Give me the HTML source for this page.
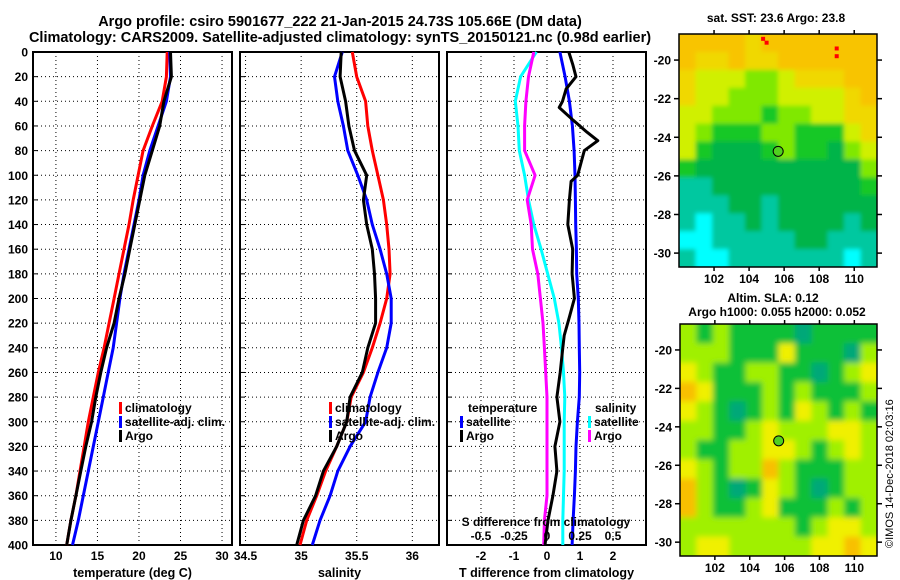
<!DOCTYPE html>
<html><head><meta charset="utf-8">
<style>
html,body{margin:0;padding:0;background:#fff;}
svg{display:block;font-family:"Liberation Sans",sans-serif;font-weight:bold;}
</style></head>
<body>
<svg id="chart" width="900" height="580" viewBox="0 0 900 580" xmlns="http://www.w3.org/2000/svg">
<defs>
<filter id="blur" x="0" y="0" width="1" height="1"><feGaussianBlur stdDeviation="3"/></filter>
<filter id="blur1" x="0" y="0" width="1" height="1"><feGaussianBlur stdDeviation="2"/></filter>
<clipPath id="clipMap2"><rect x="680" y="324" width="197" height="232"/></clipPath>
<clipPath id="clipMap1"><rect x="679" y="34" width="198" height="233"/></clipPath>
</defs>
<text x="340" y="26" font-size="14.5" text-anchor="middle">Argo profile: csiro 5901677_222 21-Jan-2015 24.73S 105.66E (DM data)</text>
<text x="340" y="42" font-size="14.5" text-anchor="middle">Climatology: CARS2009. Satellite-adjusted climatology: synTS_20150121.nc (0.98d earlier)</text>
<text x="776" y="22" font-size="12" text-anchor="middle">sat. SST: 23.6 Argo: 23.8</text>
<text x="773" y="302" font-size="12" text-anchor="middle">Altim. SLA: 0.12</text>
<text x="777" y="316" font-size="12" text-anchor="middle">Argo h1000: 0.055 h2000: 0.052</text>
<text x="0" y="0" font-size="11" font-weight="normal" transform="translate(893,548) rotate(-90)">©IMOS 14-Dec-2018 02:03:16</text>
<g id="g"></g>
</svg>
<script>
// ---- profile data ----
var depths = [0,20,40,60,80,100,120,140,160,180,200,220,240,260,280,300,320,340,360,380,400];
var tempClim = [23.4,23.3,22.8,21.6,20.5,19.9,19.3,18.8,18.2,17.6,17.0,16.4,15.8,15.1,14.5,13.9,13.4,12.9,12.4,11.8,11.3];
var tempSat = [23.7,23.8,23.3,22.3,21.3,20.5,20.0,19.4,18.8,18.2,17.7,17.3,16.9,16.3,15.7,15.1,14.5,13.9,13.3,12.7,12.0];
var tempArgo = [23.8,23.9,23.0,22.5,21.6,20.7,20.1,19.5,18.9,18.3,17.6,17.0,16.1,15.4,14.8,14.3,13.6,13.0,12.4,11.8,11.3];
var salClim = [35.46,35.50,35.58,35.60,35.64,35.69,35.74,35.77,35.79,35.80,35.77,35.71,35.64,35.56,35.45,35.41,35.32,35.22,35.14,35.05,34.99];
var salSat = [35.37,35.30,35.33,35.38,35.42,35.51,35.59,35.64,35.71,35.77,35.81,35.81,35.77,35.69,35.62,35.58,35.44,35.33,35.26,35.17,35.10];
var salArgo = [35.36,35.35,35.40,35.43,35.48,35.59,35.56,35.59,35.64,35.66,35.67,35.67,35.60,35.55,35.44,35.41,35.32,35.20,35.13,35.02,34.96];
var tdDepths = [0,10,20,30,40,45,55,65,72,80,90,100,105,120,140,160,180,200,215,230,240,260,280,300,320,340,360,380,400];
var tdArgo = [0.66,0.78,0.88,0.58,0.47,0.37,0.78,1.21,1.54,1.13,1.03,0.93,0.73,0.68,0.63,0.78,0.76,0.83,0.68,0.52,0.48,0.40,0.30,0.39,0.24,0.30,0.18,0.03,-0.06];
var tdSat = [0.39,0.55,0.68,0.77,0.82,0.85,0.86,0.87,0.89,0.90,0.95,0.97,0.98,0.99,0.98,0.92,0.88,0.86,0.83,0.79,0.76];
var sdSat = [-0.08,-0.20,-0.24,-0.22,-0.21,-0.17,-0.14,-0.10,-0.045,0.005,0.055,0.09,0.11,0.125,0.135,0.13,0.13,0.13,0.125,0.12,0.12];
var sdArgo = [-0.10,-0.14,-0.16,-0.17,-0.17,-0.09,-0.15,-0.12,-0.11,-0.07,-0.05,-0.03,-0.02,-0.01,0,0,0,0,0,-0.02,-0.025];
var depthTicks = [0,20,40,60,80,100,120,140,160,180,200,220,240,260,280,300,320,340,360,380,400];
var tempTicks = [10,15,20,25,30];
var salTicks = [34.5,35,35.5,36];
var tdTicks = [-2,-1,0,1,2];
var sdTicks = [-0.5,-0.25,0,0.25,0.5];
var sdTickLabels = ['-0.5','-0.25','0','0.25','0.5'];
// ---- map data ----
var mapLatTicks = [-20,-22,-24,-26,-28,-30];
var mapLonTicks = [102,104,106,108,110];
var argoLon = 105.66, argoLat = -24.73;
var sstGrid = [
[7,7,7,7,6,7,7,7,7,7,7,7],
[7,6,6,7,6,6,7,7,7,7,7,7],
[6,5,5,5,4,4,5,6,6,6,7,7],
[6,5,5,4,4,4,5,5,5,5,6,7],
[5,5,4,4,4,3,4,4,5,5,6,6],
[5,4,3,3,3,4,4,3,3,3,5,6],
[5,3,2,2,2,3,4,3,3,2,4,5],
[3,2,2,2,2,2,2,2,2,2,2,4],
[1,1,2,2,2,2,2,2,2,2,2,3],
[1,1,1,2,2,1,2,2,2,2,2,2],
[1,0,1,1,2,1,2,2,2,2,1,2],
[0,0,1,1,1,1,1,2,2,1,1,1],
[1,0,0,1,1,1,1,1,1,1,0,1]];
var slaGrid = [
[2,1,2,1,1,1,1,0,1,1,1,1],
[2,2,2,1,1,1,3,1,1,1,0,2],
[3,2,1,1,2,2,1,1,0,1,2,3],
[4,3,1,1,1,2,1,2,1,1,1,2],
[3,2,1,0,1,2,1,3,2,1,2,1],
[2,2,1,1,2,3,2,2,2,3,3,2],
[2,1,1,2,2,3,3,2,1,2,3,2],
[3,2,1,2,2,4,2,1,1,1,2,2],
[4,2,1,0,1,3,2,1,0,1,2,2],
[4,2,1,1,2,3,1,1,1,2,1,2],
[2,2,2,2,2,2,2,1,2,3,3,2],
[2,3,3,2,2,2,2,2,3,3,4,3]];
var sstPalette = ['#00ffff','#00c8a0','#00b448','#18c828','#80e800','#d0f000','#f0d800','#f8c400'];
var slaPalette = ['#00a878','#10c038','#a0f000','#f0f000','#f8c000'];

var SVGNS='http://www.w3.org/2000/svg';
var root=document.getElementById('g');
function el(tag,attrs,parent){var e=document.createElementNS(SVGNS,tag);for(var k in attrs)e.setAttribute(k,attrs[k]);(parent||root).appendChild(e);return e;}
function ptsStr(xs,ys){return xs.map(function(x,i){return x.toFixed(1)+','+ys[i].toFixed(1);}).join(' ');}

var yTop=52,yBot=545;
function yD(d){return yTop+(yBot-yTop)*d/400;}
var panels=[
 {x0:33,x1:232,v0:7.24,v1:31.2,ticks:tempTicks,label:'temperature (deg C)',name:'temperature'},
 {x0:240,x1:439,v0:34.45,v1:36.24,ticks:salTicks,label:'salinity',name:'salinity'},
 {x0:447,x1:646,v0:-3.03,v1:3.0,ticks:tdTicks,label:'T difference from climatology',name:'difference'}];
function xs(p,v){return p.x0+(p.x1-p.x0)*(v-p.v0)/(p.v1-p.v0);}
function sdX(v){return xs(panels[2],v*4);}

panels.forEach(function(p,pi){
  var g=el('g',{});
  
  
  depthTicks.forEach(function(d){
    var l=el('line',{x1:p.x0,x2:p.x1,y1:yD(d),y2:yD(d),stroke:'#000','stroke-width':1,'stroke-dasharray':'1,3'},g);
    
    
    var t=el('line',{x1:p.x0,x2:p.x0+5,y1:yD(d),y2:yD(d),stroke:'#000'},g);
    
    
    if(pi===0){
      var tx=el('text',{x:28,y:yD(d)+4.5,'font-size':12,'text-anchor':'end'},g);
      tx.textContent=d;
      
      
    }
  });
  p.ticks.forEach(function(v){
    var x=xs(p,v);
    var l=el('line',{x1:x,x2:x,y1:yTop,y2:yBot,stroke:'#000','stroke-width':1,'stroke-dasharray':'1,3'},g);
    
    
    var tx=el('text',{x:x,y:560,'font-size':12,'text-anchor':'middle'},g);
    tx.textContent=v;
    
    
  });
  var xl=el('text',{x:(p.x0+p.x1)/2,y:577,'font-size':12.5,'text-anchor':'middle'},g);
  xl.textContent=p.label;
  
  
  var fr=el('rect',{x:p.x0,y:yTop,width:p.x1-p.x0,height:yBot-yTop,fill:'none',stroke:'#000','stroke-width':2},g);
  
  
});

function line(xArr,yArr,color,name){
  var l=el('polyline',{points:ptsStr(xArr,yArr),fill:'none',stroke:color,'stroke-width':3,'stroke-linejoin':'round'});
  
  
}
var yAll=depths.map(yD);
line(tempClim.map(function(v){return xs(panels[0],v);}),yAll,'#ff0000','temp-climatology-line');
line(tempSat.map(function(v){return xs(panels[0],v);}),yAll,'#0000ff','temp-satellite-line');
line(tempArgo.map(function(v){return xs(panels[0],v);}),yAll,'#000000','temp-argo-line');
line(salClim.map(function(v){return xs(panels[1],v);}),yAll,'#ff0000','sal-climatology-line');
line(salSat.map(function(v){return xs(panels[1],v);}),yAll,'#0000ff','sal-satellite-line');
line(salArgo.map(function(v){return xs(panels[1],v);}),yAll,'#000000','sal-argo-line');
line(sdSat.map(sdX),yAll,'#00ffff','sdiff-satellite-line');
line(sdArgo.map(sdX),yAll,'#ff00ff','sdiff-argo-line');
line(tdSat.map(function(v){return xs(panels[2],v);}),yAll,'#0000ff','tdiff-satellite-line');
line(tdArgo.map(function(v){return xs(panels[2],v);}),tdDepths.map(yD),'#000000','tdiff-argo-line');

// S difference axis
var sg=el('g',{});


var st=el('text',{x:546,y:526,'font-size':12,'text-anchor':'middle'},sg);
st.textContent='S difference from climatology';


sdTicks.forEach(function(v,i){
  var t=el('text',{x:sdX(v),y:540,'font-size':12,'text-anchor':'middle'},sg);
  t.textContent=sdTickLabels[i];
  
  
});

// legends
function legend(x,y,color,label,name){
  var lg=el('g',{});
  
  
  el('rect',{x:x,y:y-10,width:3,height:12,fill:color},lg);
  var t=el('text',{x:x+6,y:y,'font-size':12},lg);
  t.textContent=label;
}
legend(119,412,'#ff0000','climatology','legend-temp-climatology');
legend(119,426,'#0000ff','satellite-adj. clim.','legend-temp-satellite');
legend(119,440,'#000000','Argo','legend-temp-argo');
legend(329,412,'#ff0000','climatology','legend-sal-climatology');
legend(329,426,'#0000ff','satellite-adj. clim.','legend-sal-satellite');
legend(329,440,'#000000','Argo','legend-sal-argo');
var lt=el('text',{x:468,y:412,'font-size':12});
lt.textContent='temperature';


legend(460,426,'#0000ff','satellite','legend-tdiff-satellite');
legend(460,440,'#000000','Argo','legend-tdiff-argo');
var ls=el('text',{x:595,y:412,'font-size':12});
ls.textContent='salinity';


legend(588,426,'#00ffff','satellite','legend-sdiff-satellite');
legend(588,440,'#ff00ff','Argo','legend-sdiff-argo');

// maps
var lonMin=100.0,lonMax=111.3,latMax=-18.65,latMin=-30.72;
function makeMap(x0,y0,x1,y1,grid,pal,name,filterId,clipId){
  function lx(lon){return x0+(x1-x0)*(lon-lonMin)/(lonMax-lonMin);}
  function ly(lat){return y0+(y1-y0)*(latMax-lat)/(latMax-latMin);}
  var g=el('g',{});
  
  
  var clipG=el('g',{'clip-path':'url(#'+clipId+')'},g);
  var cg=el('g',{filter:'url(#'+filterId+')'},clipG);
  var rows=grid.length,cols=grid[0].length;
  var dLon=(lonMax-lonMin)/cols,dLat=(latMax-latMin)/rows;
  el('rect',{x:x0-10,y:y0-10,width:x1-x0+20,height:y1-y0+20,fill:pal[1]},cg);
  grid.forEach(function(row,r){row.forEach(function(v,c){
    var xa=lx(lonMin+c*dLon),xb=lx(lonMin+(c+1)*dLon);
    var ya=ly(latMax-r*dLat),yb=ly(latMax-(r+1)*dLat);
    if(c===0)xa-=10; if(c===cols-1)xb+=10; if(r===0)ya-=10; if(r===rows-1)yb+=10;
    var c0=el('rect',{x:xa,y:ya,width:xb-xa+0.6,height:yb-ya+0.6,fill:pal[v]},cg);
    
    
  });});
  mapLatTicks.forEach(function(lat){
    var y=ly(lat);
    el('line',{x1:x0-5,x2:x0,y1:y,y2:y,stroke:'#000','stroke-width':1.5},g);
    el('line',{x1:x1,x2:x1+5,y1:y,y2:y,stroke:'#000','stroke-width':1.5},g);
    var t=el('text',{x:x0-8,y:y+4.5,'font-size':12,'text-anchor':'end'},g);
    t.textContent=lat;
    
    
  });
  mapLonTicks.forEach(function(lon){
    var x=lx(lon);
    el('line',{x1:x,x2:x,y1:y1,y2:y1+4,stroke:'#000','stroke-width':1.5},g);
    el('line',{x1:x,x2:x,y1:y0-4,y2:y0,stroke:'#000','stroke-width':1.5},g);
    var t=el('text',{x:x,y:y1+16,'font-size':12,'text-anchor':'middle'},g);
    t.textContent=lon;
    
    
  });
  el('rect',{x:x0,y:y0,width:x1-x0,height:y1-y0,fill:'none',stroke:'#000','stroke-width':1.5},g);
  return {lx:lx,ly:ly,g:g};
}
var m1=makeMap(679,34,877,267,sstGrid,sstPalette,'sst-map','blur1','clipMap1');
[[104.8,-18.9],[105.0,-19.1],[109.0,-19.4],[109.0,-19.8]].forEach(function(p){
  var r=el('rect',{x:m1.lx(p[0])-2,y:m1.ly(p[1])-2,width:4,height:4,fill:'#ff0000'},m1.g);
  
  
});
var m1c=el('circle',{cx:m1.lx(argoLon),cy:m1.ly(argoLat),r:5,fill:'#50d020',stroke:'#000','stroke-width':1},m1.g);


var m2=makeMap(680,324,877,556,slaGrid,slaPalette,'sla-map','blur','clipMap2');
var m2c=el('circle',{cx:m2.lx(argoLon),cy:m2.ly(argoLat),r:5,fill:'#50d020',stroke:'#000','stroke-width':1},m2.g);


</script>
</body></html>
